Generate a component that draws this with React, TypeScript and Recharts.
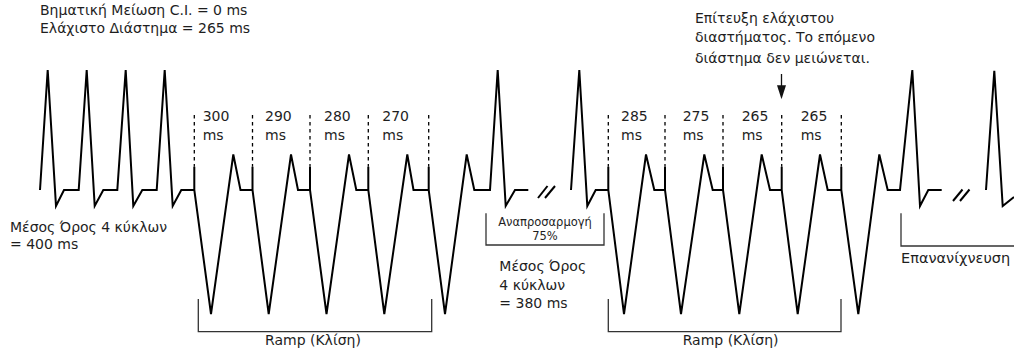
import { LineChart, Line, XAxis, YAxis, ReferenceLine, ReferenceDot } from 'recharts';

const W = 1014;
const H = 352;
const FONT = '"DejaVu Sans", Arial, sans-serif';

// ECG strip, drawn in screen units (y grows downward)
const stripA = [
  { x: 40, y: 190 }, { x: 47.7, y: 70 }, { x: 56, y: 206 }, { x: 64, y: 190 }, { x: 78.7, y: 190 },
  { x: 86.7, y: 70 }, { x: 94.7, y: 206 }, { x: 103.3, y: 190 }, { x: 117.3, y: 190 },
  { x: 125.7, y: 70 }, { x: 133.3, y: 206 }, { x: 142.3, y: 190 }, { x: 156.7, y: 190 },
  { x: 164.7, y: 70 }, { x: 172.7, y: 206 }, { x: 181.3, y: 190 }, { x: 194.3, y: 190 },
  { x: 194.3, y: 166.7 }, { x: 194.3, y: 190 }, { x: 211, y: 314 }, { x: 233.3, y: 154.5 }, { x: 240.5, y: 190 }, { x: 252.5, y: 190 },
  { x: 252.5, y: 166.7 }, { x: 252.5, y: 190 }, { x: 268.7, y: 314 }, { x: 291, y: 154.5 }, { x: 298, y: 190 }, { x: 310, y: 190 },
  { x: 310, y: 166.7 }, { x: 310, y: 190 }, { x: 326.5, y: 314 }, { x: 349, y: 154.5 }, { x: 356.3, y: 190 }, { x: 368.3, y: 190 },
  { x: 368.3, y: 166.7 }, { x: 368.3, y: 190 }, { x: 384.3, y: 314 }, { x: 407.3, y: 154.5 }, { x: 413.5, y: 190 }, { x: 428.7, y: 190 },
  { x: 428.7, y: 166.7 }, { x: 428.7, y: 190 }, { x: 445, y: 314 }, { x: 466.7, y: 154.5 }, { x: 474.3, y: 190 }, { x: 490, y: 190 },
  { x: 497.7, y: 70 }, { x: 505.7, y: 206 }, { x: 515, y: 190 }, { x: 528.3, y: 190 },
];

const stripB = [
  { x: 571, y: 190 }, { x: 579.3, y: 70 }, { x: 587.3, y: 206 }, { x: 595.7, y: 190 }, { x: 608.3, y: 190 },
  { x: 608.3, y: 166.7 }, { x: 608.3, y: 190 }, { x: 624, y: 314 }, { x: 646, y: 154.5 }, { x: 654.3, y: 190 }, { x: 665, y: 190 },
  { x: 665, y: 166.7 }, { x: 665, y: 190 }, { x: 681, y: 314 }, { x: 704.3, y: 154.5 }, { x: 712.7, y: 190 }, { x: 723, y: 190 },
  { x: 723, y: 166.7 }, { x: 723, y: 190 }, { x: 739.3, y: 314 }, { x: 761.7, y: 154.5 }, { x: 770, y: 190 }, { x: 781.7, y: 190 },
  { x: 781.7, y: 166.7 }, { x: 781.7, y: 190 }, { x: 797.7, y: 314 }, { x: 820, y: 154.5 }, { x: 827.7, y: 190 }, { x: 841.3, y: 190 },
  { x: 841.3, y: 166.7 }, { x: 841.3, y: 190 }, { x: 858.3, y: 314 }, { x: 879.3, y: 154.5 }, { x: 887.7, y: 190 }, { x: 900, y: 190 },
  { x: 912.3, y: 70 }, { x: 920, y: 206 }, { x: 928.3, y: 190 }, { x: 941.7, y: 190 },
];

const stripC = [
  { x: 986, y: 190 }, { x: 994.3, y: 70.7 }, { x: 1002.7, y: 206 }, { x: 1014, y: 197 },
];

// pacing pulse times (dashed markers) and their interval labels
const ramp1Pulses = [194.3, 252.5, 310, 368.3, 428.7];
const ramp2Pulses = [608.3, 665, 723, 781.7, 841.3];
const ramp1Labels = ['300', '290', '280', '270'];
const ramp2Labels = ['285', '275', '265', '265'];
const ramp1LabelX = [202.7, 265, 324, 382.3];
const ramp2LabelX = [621, 682.7, 741.7, 800.7];

// brackets
const ramp1Bracket = [{ x: 198.3, y: 299 }, { x: 198.3, y: 331.7 }, { x: 431.7, y: 331.7 }, { x: 431.7, y: 299 }];
const ramp2Bracket = [{ x: 608.3, y: 299 }, { x: 608.3, y: 331.7 }, { x: 841, y: 331.7 }, { x: 841, y: 299 }];
const adaptBracket = [{ x: 486, y: 213.3 }, { x: 486, y: 245 }, { x: 604, y: 245 }, { x: 604, y: 213.3 }];
const redetectBracket = [{ x: 901, y: 213.3 }, { x: 901, y: 246 }, { x: 1014, y: 246 }];

// break marks "//"
const breaks = [
  [{ x: 538, y: 198 }, { x: 547.5, y: 186 }],
  [{ x: 545, y: 198 }, { x: 555, y: 186 }],
  [{ x: 953, y: 201 }, { x: 962.5, y: 189.5 }],
  [{ x: 960, y: 201 }, { x: 969.5, y: 189.5 }],
];

const texts = [
  { x: 40, y: 15, t: 'Βηματική Μείωση C.I. = 0 ms', s: 14 },
  { x: 40, y: 32.7, t: 'Ελάχιστο Διάστημα = 265 ms', s: 14 },
  { x: 10, y: 231.5, t: 'Μέσος Όρος 4 κύκλων', s: 14 },
  { x: 10, y: 249, t: '= 400 ms', s: 14 },
  { x: 265, y: 345, t: 'Ramp (Κλίση)', s: 14 },
  { x: 682.7, y: 345, t: 'Ramp (Κλίση)', s: 14 },
  { x: 545, y: 226, t: 'Αναπροσαρμογή', s: 11.5, a: 'middle' },
  { x: 545, y: 240, t: '75%', s: 11.5, a: 'middle' },
  { x: 499.3, y: 270.5, t: 'Μέσος Όρος', s: 14 },
  { x: 499.3, y: 289.5, t: '4 κύκλων', s: 14 },
  { x: 499.3, y: 308, t: '= 380 ms', s: 14 },
  { x: 695, y: 22.5, t: 'Επίτευξη ελάχιστου', s: 14 },
  { x: 695, y: 42.3, t: 'διαστήματος. Το επόμενο', s: 14 },
  { x: 695, y: 62.5, t: 'διάστημα δεν μειώνεται.', s: 14 },
  { x: 901, y: 262.7, t: 'Επανανίχνευση', s: 14.5 },
];

const TextMark = (props: any) => (
  <text
    x={props.cx}
    y={props.cy}
    fontSize={props.size}
    textAnchor={props.anchor || 'start'}
    fill="#1e1e1e"
    fontFamily={FONT}
  >
    {props.text}
  </text>
);

const ArrowHead = (props: any) => (
  <path
    d={`M${props.cx - 4.5},${props.cy - 14} L${props.cx + 4.5},${props.cy - 14} L${props.cx},${props.cy} Z`}
    fill="#111"
  />
);

export default function App() {
  return (
    <div style={{ position: 'absolute', left: 0, top: 0, width: W, height: H, background: '#fff' }}>
      <LineChart width={W} height={H} margin={{ top: 0, right: 0, bottom: 0, left: 0 }}>
        <XAxis type="number" dataKey="x" domain={[0, W]} allowDataOverflow hide />
        <YAxis type="number" dataKey="y" domain={[0, H]} reversed allowDataOverflow hide />

        {[stripA, stripB, stripC].map((d, i) => (
          <Line key={`s${i}`} data={d} dataKey="y" type="linear" stroke="#000" strokeWidth={2}
            dot={false} activeDot={false} isAnimationActive={false} strokeLinejoin="miter" />
        ))}

        {[ramp1Bracket, ramp2Bracket, adaptBracket, redetectBracket].map((d, i) => (
          <Line key={`b${i}`} data={d} dataKey="y" type="linear" stroke="#333" strokeWidth={1.3}
            dot={false} activeDot={false} isAnimationActive={false} />
        ))}

        {breaks.map((d, i) => (
          <Line key={`k${i}`} data={d} dataKey="y" type="linear" stroke="#000" strokeWidth={2}
            dot={false} activeDot={false} isAnimationActive={false} />
        ))}

        {[...ramp1Pulses, ...ramp2Pulses].map((p, i) => (
          <ReferenceLine key={`p${i}`} segment={[{ x: p, y: 115 }, { x: p, y: 166.7 }]}
            stroke="#000" strokeWidth={1.3} strokeDasharray="3.5 3.5" />
        ))}

        <ReferenceLine segment={[{ x: 781.5, y: 74 }, { x: 781.5, y: 88 }]} stroke="#111" strokeWidth={1.3} />
        <ReferenceDot x={781.5} y={99.3} r={0} shape={(p: any) => <ArrowHead {...p} />} />

        {ramp1Labels.map((t, i) => (
          <ReferenceDot key={`r1${i}`} x={ramp1LabelX[i]} y={121} r={0}
            shape={(p: any) => <TextMark {...p} text={t} size={14} />} />
        ))}
        {ramp1Labels.map((t, i) => (
          <ReferenceDot key={`r1m${i}`} x={ramp1LabelX[i]} y={139.5} r={0}
            shape={(p: any) => <TextMark {...p} text="ms" size={14} />} />
        ))}
        {ramp2Labels.map((t, i) => (
          <ReferenceDot key={`r2${i}`} x={ramp2LabelX[i]} y={121} r={0}
            shape={(p: any) => <TextMark {...p} text={t} size={14} />} />
        ))}
        {ramp2Labels.map((t, i) => (
          <ReferenceDot key={`r2m${i}`} x={ramp2LabelX[i]} y={139.5} r={0}
            shape={(p: any) => <TextMark {...p} text="ms" size={14} />} />
        ))}

        {texts.map((t, i) => (
          <ReferenceDot key={`t${i}`} x={t.x} y={t.y} r={0}
            shape={(p: any) => <TextMark {...p} text={t.t} size={t.s} anchor={t.a} />} />
        ))}
      </LineChart>
    </div>
  );
}
